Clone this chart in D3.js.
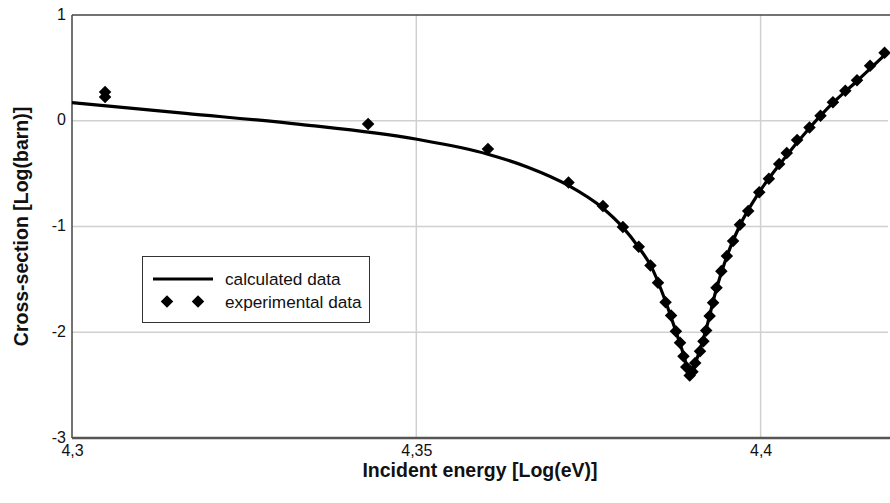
<!DOCTYPE html>
<html>
<head>
<meta charset="utf-8">
<script src="https://cdn.jsdelivr.net/npm/d3@7"></script>
<style>
  html, body { margin: 0; padding: 0; background: #fff; }
  svg { display: block; font-family: "Liberation Sans", Arial, sans-serif; }
</style>
</head>
<body>
<svg id="chart" width="890" height="503"></svg>
<script>
// ---- data ----
const xTicks = [4.3, 4.35, 4.4];
const xTickLabels = ["4,3", "4,35", "4,4"];
const yTicks = [1, 0, -1, -2, -3];
const yTickLabels = ["1", "0", "-1", "-2", "-3"];

const calcX = [4.3, 4.3165, 4.3331, 4.3499, 4.3604, 4.3662, 4.3720, 4.3771, 4.3800,
  4.3823, 4.3841, 4.3862, 4.3877, 4.3889, 4.3897, 4.3906, 4.3920, 4.3936, 4.3951,
  4.3970, 4.3997, 4.4028, 4.4071, 4.4105, 4.4140, 4.4185];
const calcY = [0.172, 0.070, -0.034, -0.173, -0.316, -0.439, -0.609, -0.827, -1.008,
  -1.197, -1.377, -1.709, -1.993, -2.230, -2.420, -2.278, -1.993, -1.586, -1.282,
  -0.988, -0.685, -0.410, -0.069, 0.168, 0.376, 0.651];

const expX = [4.3048, 4.3048, 4.3430, 4.3604, 4.3721, 4.3771, 4.3800, 4.3823, 4.3840, 4.3851,
  4.3862, 4.3870, 4.3877, 4.3883, 4.3888, 4.3892, 4.3897, 4.3901, 4.3905, 4.3912,
  4.3917, 4.3921, 4.3926, 4.3931, 4.3936, 4.3943, 4.3951, 4.3960, 4.3970, 4.3982,
  4.3998, 4.4012, 4.4027, 4.4038, 4.4053, 4.4071, 4.4087, 4.4105, 4.4123, 4.4140,
  4.4159, 4.4180];
const expY = [0.272, 0.225, -0.031, -0.268, -0.584, -0.806, -1.005, -1.191, -1.368, -1.532,
  -1.716, -1.842, -1.991, -2.100, -2.227, -2.328, -2.410, -2.373, -2.290, -2.180,
  -2.085, -1.984, -1.846, -1.721, -1.579, -1.422, -1.280, -1.137, -0.983, -0.853,
  -0.676, -0.548, -0.410, -0.306, -0.183, -0.063, 0.047, 0.174, 0.284, 0.383,
  0.521, 0.642];

const seriesNames = ["calculated data", "experimental data"];
const xTitle = "Incident energy [Log(eV)]";
const yTitle = "Cross-section [Log(barn)]";

// ---- layout ----
const svg = d3.select("#chart");
const L = 72, R = 888, T = 15, B = 438;
const x = d3.scaleLinear().domain([4.3, 4.4185]).range([L, R]);
const y = d3.scaleLinear().domain([-3, 1]).range([B, T]);

// gridlines
svg.append("g").selectAll("line.gx").data(xTicks.slice(1)).join("line")
  .attr("x1", d => x(d)).attr("x2", d => x(d)).attr("y1", T).attr("y2", B)
  .attr("stroke", "#d0d0d0").attr("stroke-width", 1.5);
svg.append("g").selectAll("line.gy").data(yTicks.slice(1, -1)).join("line")
  .attr("x1", L).attr("x2", R).attr("y1", d => y(d)).attr("y2", d => y(d))
  .attr("stroke", "#d0d0d0").attr("stroke-width", 1.5);

// frame
svg.append("line").attr("x1", L).attr("x2", 890).attr("y1", T).attr("y2", T)
  .attr("stroke", "#444").attr("stroke-width", 1.5);
svg.append("line").attr("x1", L).attr("x2", L).attr("y1", T).attr("y2", B)
  .attr("stroke", "#444").attr("stroke-width", 1.5);
svg.append("line").attr("x1", L).attr("x2", 890).attr("y1", B).attr("y2", B)
  .attr("stroke", "#555").attr("stroke-width", 2.5);

// axis tick labels
const xAxis = d3.axisBottom(x).tickValues(xTicks).tickSize(0)
  .tickFormat((d, i) => xTickLabels[i]);
const gx = svg.append("g").attr("transform", `translate(0,${B})`).call(xAxis);
gx.select(".domain").remove();
gx.selectAll("text").attr("font-size", 16).attr("fill", "#111").attr("dy", "0.71em").attr("y", 7)
  .attr("font-family", "Liberation Sans, Arial, sans-serif");

const yAxis = d3.axisLeft(y).tickValues(yTicks).tickSize(0)
  .tickFormat((d, i) => yTickLabels[i]);
const gy = svg.append("g").attr("transform", `translate(${L},0)`).call(yAxis);
gy.select(".domain").remove();
gy.selectAll("text").attr("font-size", 16).attr("fill", "#111").attr("x", -6).attr("dy", "0.25em")
  .attr("font-family", "Liberation Sans, Arial, sans-serif");

// titles
svg.append("text").attr("x", (L + R) / 2).attr("y", 477).attr("text-anchor", "middle")
  .attr("font-size", 19.5).attr("font-weight", "bold").attr("fill", "#111").text(xTitle);
svg.append("text").attr("transform", `translate(28,${(T + B) / 2}) rotate(-90)`)
  .attr("text-anchor", "middle")
  .attr("font-size", 19.5).attr("font-weight", "bold").attr("fill", "#111").text(yTitle);

// calculated line
const calc = calcX.map((v, i) => [v, calcY[i]]);
const line = d3.line().x(d => x(d[0])).y(d => y(d[1])).curve(d3.curveMonotoneX);
svg.append("path").datum(calc).attr("d", line)
  .attr("fill", "none").attr("stroke", "#000").attr("stroke-width", 3.2)
  .attr("stroke-linejoin", "round");

// experimental points
const exp = expX.map((v, i) => [v, expY[i]]);
const diamond = d3.symbol().type(d3.symbolDiamond2).size(100);
svg.append("g").selectAll("path").data(exp).join("path")
  .attr("transform", d => `translate(${x(d[0])},${y(d[1])})`)
  .attr("d", diamond).attr("fill", "#000");

// legend
const lg = svg.append("g");
lg.append("rect").attr("x", 142.5).attr("y", 256.5).attr("width", 227).attr("height", 66)
  .attr("fill", "#fff").attr("stroke", "#333").attr("stroke-width", 1);
lg.append("line").attr("x1", 153).attr("x2", 213).attr("y1", 279).attr("y2", 279)
  .attr("stroke", "#000").attr("stroke-width", 3.2);
lg.append("text").attr("x", 225).attr("y", 285).attr("font-size", 17.2).attr("fill", "#111")
  .text(seriesNames[0]);
[167, 198].forEach(cx => {
  lg.append("path").attr("transform", `translate(${cx},301.5)`).attr("d", diamond).attr("fill", "#000");
});
lg.append("text").attr("x", 225).attr("y", 307.5).attr("font-size", 17.2).attr("fill", "#111")
  .text(seriesNames[1]);
</script>
</body>
</html>
